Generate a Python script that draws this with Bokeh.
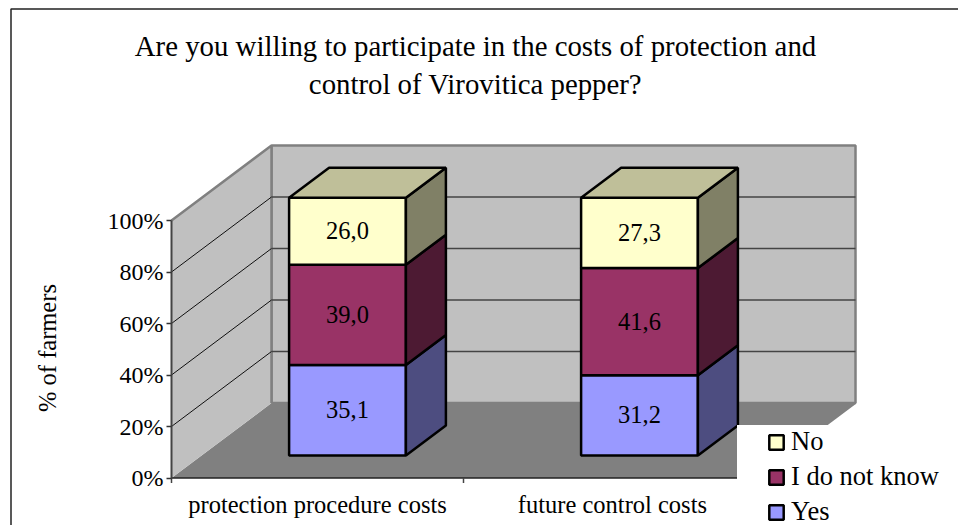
from bokeh.plotting import figure
from bokeh.models import Label, Legend, LegendItem, FixedTicker, Range1d, LinearAxis, CustomJSTickFormatter
from bokeh.core.properties import value
from bokeh.embed import file_html
from bokeh.resources import INLINE

categories = ["protection procedure costs", "future control costs"]
series_names = ["Yes", "I do not know", "No"]
yes_values = [35.1, 31.2]
idk_values = [39.0, 41.6]
no_values = [26.0, 27.3]
y_ticks = [0, 20, 40, 60, 80, 100]
title_lines = ["Are you willing to participate in the costs of protection and",
               "control of Virovitica pepper?"]
y_title = "% of farmers"

front_colors = ["#9999FF", "#993366", "#FFFFCC"]
side_colors = ["#4D4D80", "#4D1A33", "#808066"]
top_color = "#BFBF99"
WALL = "#C0C0C0"
FLOOR = "#808080"
SERIF = "Liberation Serif"

W, H = 958, 525
PX_CAT = 292.0
PX_PCT = 2.575
X0_PX = 171.0
Y0_PX = 477.5

DX = 100 / PX_CAT
DY = 75 / PX_PCT
def px(c, d):
    return c + d * DX
def py(v, d):
    return v + d * DY
def dx_of(sx):
    return (sx - X0_PX) / PX_CAT
def dy_of(sy):
    return (Y0_PX - sy) / PX_PCT

p = figure(width=W, height=H, output_backend="svg", toolbar_location=None,
           x_range=Range1d(dx_of(0), dx_of(W)),
           y_range=Range1d(dy_of(H), dy_of(0)),
           min_border=0, outline_line_color=None, background_fill_color="white")
p.grid.visible = False
p.xaxis.visible = False
p.yaxis.visible = False
n = len(categories)

# chart area border: top and left only
p.line([dx_of(10.5), dx_of(10.5), dx_of(W)], [dy_of(H), dy_of(8.5), dy_of(8.5)], line_color="#222222", line_width=1.5)

# floor, walls
p.patch([px(0, 0), px(n, 0), px(n, 1), px(0, 1)], [py(0, 0), py(0, 0), py(0, 1), py(0, 1)],
        fill_color=FLOOR, line_color=None)
p.patch([px(0, 1), px(n, 1), px(n, 1), px(0, 1)], [py(0, 1), py(0, 1), py(100, 1), py(100, 1)],
        fill_color=WALL, line_color=FLOOR, line_width=2.5)
p.patch([px(0, 0), px(0, 1), px(0, 1), px(0, 0)], [py(0, 0), py(0, 1), py(100, 1), py(100, 0)],
        fill_color=WALL, line_color=None)
p.line([px(0, 0), px(0, 1), px(0, 1)], [py(100, 0), py(100, 1), py(0, 1)], line_color=FLOOR, line_width=2.5)
p.line([px(n, 0), px(n, 1)], [py(0, 0), py(0, 1)], line_color=FLOOR, line_width=2)
p.line([px(0, 0), px(n, 0)], [0, 0], line_color="#222222", line_width=1.5)

for t in y_ticks[1:-1]:
    p.line([px(0, 0), px(0, 1)], [py(t, 0), py(t, 1)], line_color="#111111", line_width=1)
    p.line([px(0, 1), px(n, 1)], [py(t, 1), py(t, 1)], line_color="#444444", line_width=1.5)

# stacked 3D bars
series = [yes_values, idk_values, no_values]
BAR_W = 0.4
D0, D1 = 0.3, 0.7
legend_renderers = []
for i in range(n):
    c0 = i + 0.5 - BAR_W / 2
    c1 = i + 0.5 + BAR_W / 2
    base = 0.0
    for s, vals in enumerate(series):
        top = base + vals[i]
        r = p.patch([px(c0, D0), px(c1, D0), px(c1, D0), px(c0, D0)],
                    [py(base, D0), py(base, D0), py(top, D0), py(top, D0)],
                    fill_color=front_colors[s], line_color="black", line_width=2.5)
        if i == 0:
            legend_renderers.append(r)
        p.patch([px(c1, D0), px(c1, D1), px(c1, D1), px(c1, D0)],
                [py(base, D0), py(base, D1), py(top, D1), py(top, D0)],
                fill_color=side_colors[s], line_color="black", line_width=2.5)
        p.text([px((c0 + c1) / 2, D0)], [py(base + vals[i] / 2, D0)],
               text=[f"{vals[i]:.1f}".replace(".", ",")],
               text_font=value(SERIF), text_font_size="24.5px", text_color="black",
               text_align="center", text_baseline="middle", y_offset=-0.5)
        base = top
    p.patch([px(c0, D0), px(c1, D0), px(c1, D1), px(c0, D1)],
            [py(base, D0), py(base, D0), py(base, D1), py(base, D1)],
            fill_color=top_color, line_color="black", line_width=2.5)

# white area behind the legend, as in the reference
p.quad(left=[dx_of(736.5)], right=[dx_of(W)], bottom=[dy_of(H)], top=[dy_of(424.5)],
       fill_color="white", line_color=None)

# axes inside the frame
ya = LinearAxis(ticker=FixedTicker(ticks=y_ticks), fixed_location=0, bounds=(0, 100))
ya.formatter = CustomJSTickFormatter(code="return tick + '%'")
ya.axis_line_color = "#444444"; ya.axis_line_width = 2
ya.major_tick_out = 5; ya.major_tick_in = 0; ya.minor_tick_line_color = None
ya.major_tick_line_color = "#333333"; ya.major_tick_line_width = 1.5
ya.major_label_text_font = SERIF; ya.major_label_text_font_size = "24px"; ya.major_label_text_color = "black"
ya.major_label_standoff = 3
p.add_layout(ya, "left")

label_ticks = [0.5, 1.51]
xa = LinearAxis(ticker=FixedTicker(ticks=label_ticks), fixed_location=0,
                major_label_overrides=dict(zip(label_ticks, categories)))
xa.axis_line_color = None; xa.major_tick_line_color = None; xa.minor_tick_line_color = None
xa.major_label_text_font = SERIF; xa.major_label_text_font_size = "24.5px"; xa.major_label_text_color = "black"
xa.major_label_standoff = 7
p.add_layout(xa, "below")

# small ticks along the front edge, at the category boundaries
p.segment([0, 1], [0, 0], [0, 1], [-5 / PX_PCT] * 2, line_color="#444444", line_width=1.5)

# titles
for line, ypos in zip(title_lines, (45, 83)):
    p.add_layout(Label(x=475, y=H - ypos, x_units="screen", y_units="screen", text=line,
                       text_font=SERIF, text_font_size="28.8px", text_color="black",
                       text_align="center", text_baseline="middle"))
p.add_layout(Label(x=47, y=H - 347.5, x_units="screen", y_units="screen", text=y_title, angle=90, angle_units="deg",
                   text_font=SERIF, text_font_size="24.5px", text_color="black",
                   text_align="center", text_baseline="middle"))

# legend
items = [LegendItem(label=series_names[s], renderers=[legend_renderers[s]]) for s in (2, 1, 0)]
leg = Legend(items=items, location=(767, -2), background_fill_alpha=0,
             border_line_color=None,
             glyph_width=18, glyph_height=18, label_text_font=SERIF, label_text_font_size="26.5px",
             label_text_color="black", label_standoff=6, spacing=4, padding=0, margin=0)
p.add_layout(leg)

open("out.html", "w").write(file_html(p, INLINE))
